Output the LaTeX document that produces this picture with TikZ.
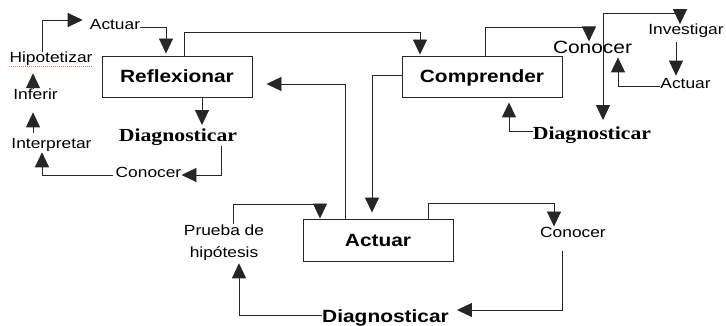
\documentclass[tikz,border=0pt]{standalone}
\usepackage{fontspec}
\setmainfont{Liberation Sans}[FakeStretch=1.18]
\newfontfamily\serifdg{Liberation Serif}[FakeStretch=1.18]
\usetikzlibrary{arrows.meta}
\tikzset{
  box/.style={draw=black!85, line width=0.9pt, text height=12.7pt, text depth=0pt, inner sep=0pt,
    font=\fontsize{17.7}{21}\selectfont\bfseries},
  lbl/.style={inner sep=0pt, anchor=base, font=\fontsize{14.7}{22}\selectfont},
  biglbl/.style={inner sep=0pt, anchor=base, font=\fontsize{17.7}{21}\selectfont},
  dg/.style={inner sep=0pt, anchor=base, font=\fontsize{18.4}{22}\selectfont\serifdg\bfseries},
  dgs/.style={inner sep=0pt, anchor=base, font=\fontsize{17.7}{21}\selectfont\bfseries},
  arr/.style={draw=black!85, line width=0.9pt, -{Triangle[length=15pt,width=14pt]}},
}
\begin{document}
\begin{tikzpicture}[x=1pt,y=-1pt]
\useasboundingbox (0,0) rectangle (726,326);
% nodes
\node[lbl] (act1) at (115,30) {Actuar};
\node[lbl] (hip) at (51,63) {Hipotetizar};
\node[lbl] (inf) at (35.5,100) {Inferir};
\node[lbl] (interp) at (51.5,149) {Interpretar};
\node[lbl] (con1) at (148.5,178) {Conocer};
\node[box, minimum width=150pt, minimum height=41pt] (refl) at (177,76.5) {Reflexionar};
\node[dg] (diag1) at (178,142) {Diagnosticar};
\node[box, minimum width=160pt, minimum height=41pt] (comp) at (482,76.5) {Comprender};
\node[biglbl] (con2) at (592.5,54) {Conocer};
\node[lbl] (inv) at (686,35) {Investigar};
\node[lbl] (act3) at (685.5,89) {Actuar};
\node[dg] (diag2) at (592,140) {Diagnosticar};
\node[box, minimum width=150pt, minimum height=42pt] (actb) at (378,240) {Actuar};
\node[lbl, align=center] (pr) at (224,257) {Prueba de\\hipótesis};
\node[lbl] (con3) at (573,237) {Conocer};
\node[dgs] (diag3) at (385.5,322) {Diagnosticar};
% spell-check underline
\draw[red!60, line width=0.6pt, dash pattern=on 1pt off 1pt] ([yshift=-3pt]hip.base west) -- ([yshift=-3pt]hip.base east);
% bend coordinates
\coordinate (b1) at (42,20);
\coordinate (b2) at (166,27);
\coordinate (b3) at (184,32);
\coordinate (b4) at (420,32);
\coordinate (b5) at (202,0);
\coordinate (b6) at (221,175);
\coordinate (b7) at (42,175);
\coordinate (b8) at (33,0);
\coordinate (b9) at (485,27);
\coordinate (b10) at (589,27);
\coordinate (j) at (603,13);
\coordinate (b11) at (680,13);
\coordinate (b12) at (676,0);
\coordinate (b13) at (618,86);
\coordinate (b14) at (509,131);
\coordinate (b15) at (345,84);
\coordinate (b16) at (372,75);
\coordinate (b17) at (233,204);
\coordinate (b18) at (320,204);
\coordinate (b19) at (428,203);
\coordinate (b20) at (554,203);
\coordinate (b21) at (562,310);
\coordinate (b22) at (239,315);
% connectors
\draw[arr, shorten >=7pt] (hip.north -| b1) -- (b1) -- (act1.west |- b1);
\draw[arr, shorten >=2pt] (act1.east |- b2) -- (b2) -- (b2 |- refl.north);
\draw[arr, shorten >=1pt] (b3 |- refl.north) -- (b3) -- (b4) -- (b4 |- comp.north);
\draw[arr, shorten >=4pt] (refl.south -| b5) -- (diag1.north -| b5);
\draw[arr] (b6 |- diag1.south) -- (b6) -- (con1.east |- b6);
\draw[arr, shorten <=3pt] (con1.west |- b7) -- (b7) -- (b7 |- interp.south);
\draw[arr, shorten <=6pt, shorten >=12pt] (interp.north -| b8) -- (inf.south -| b8);
\draw[arr, shorten <=1pt, shorten >=7pt] (inf.north -| b8) -- (hip.south -| b8);
\draw[arr] (b9 |- comp.north) -- (b9) -- (b10) -- (b10 |- con2.north);
\draw[arr, shorten >=7pt] (j) -- (j |- diag2.north);
\draw[arr] (j) -- (b11) -- (b11 |- inv.north);
\draw[arr, shorten <=4pt, shorten >=3pt] (inv.south -| b12) -- (act3.north -| b12);
\draw[arr, shorten >=3pt] (act3.west |- b13) -- (b13) -- (b13 |- con2.south);
\draw[arr, shorten >=5pt] (diag2.west |- b14) -- (b14) -- (b14 |- comp.south);
\draw[arr, shorten >=14pt] (b15 |- actb.north) -- (b15) -- (refl.east |- b15);
\draw[arr, shorten >=6pt] (comp.west |- b16) -- (b16) -- (b16 |- actb.north);
\draw[arr] (b17 |- pr.north) -- (b17) -- (b18) -- (b18 |- actb.north);
\draw[arr] (b19 |- actb.north) -- (b19) -- (b20) -- (b20 |- con3.north);
\draw[arr, shorten <=14pt, shorten >=8pt] (b21 |- con3.south) -- (b21) -- (diag3.east |- b21);
\draw[arr, shorten >=3pt] (diag3.west |- b22) -- (b22) -- (b22 |- pr.south);
\end{tikzpicture}
\end{document}
